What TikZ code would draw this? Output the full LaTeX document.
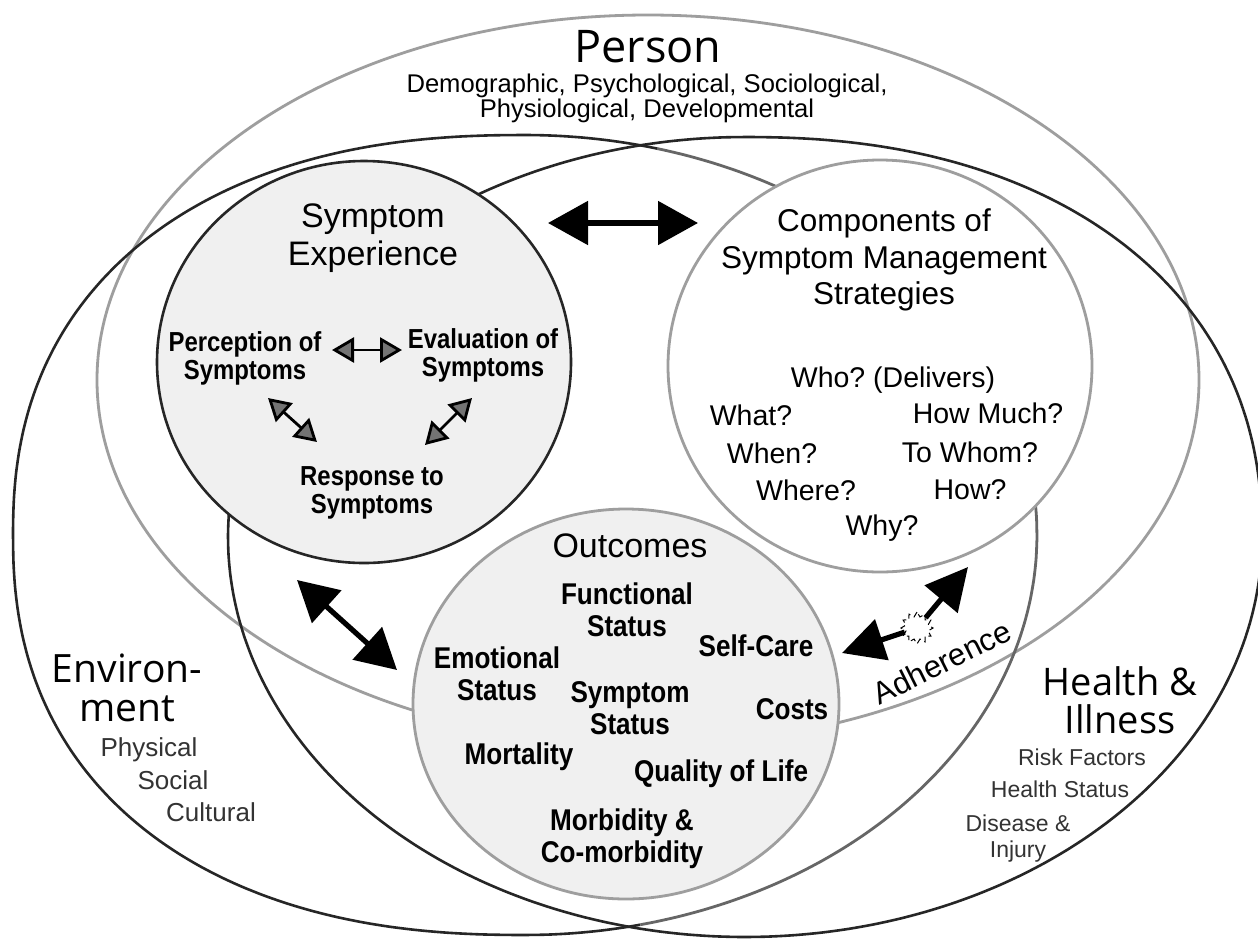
\documentclass[tikz,border=0pt]{standalone}
\usepackage{fontspec}
\setmainfont{Liberation Sans}
\newfontfamily\titlefont{Open Sans}
\newfontfamily\narrowfont[FakeStretch=0.87]{Liberation Sans}
\usepackage{tikz}
\usetikzlibrary{positioning, arrows.meta, shapes.geometric}
% fuller on the left half, plain ellipse on the right half
\newcommand{\environmentpath}{plot[domain=0.5:360.5, samples=121, smooth, variable=\t] ({525 + 512*cos(\t)*pow(abs(cos(\t)), (cos(\t)<0) ? -0.13 : 0)}, {535 + 400*sin(\t)*pow(abs(sin(\t)), (cos(\t)<0) ? -0.13 : 0)}) -- cycle}
% plain ellipse, a little fuller at the top right
\newcommand{\healthpath}{plot[domain=0.5:360.5, samples=121, smooth, variable=\t] ({745 + 517*cos(\t)*pow(abs(cos(\t)), (cos(\t)>0 && sin(\t)<0) ? -0.1 : 0)}, {537 + 400*sin(\t)*pow(abs(sin(\t)), (cos(\t)>0 && sin(\t)<0) ? -0.1 : 0)}) -- cycle}

\begin{document}
\begin{tikzpicture}[x=0.5pt, y=-0.5pt,
	dark line/.style={line width=1.3pt, black!85},
	pale line/.style={line width=1.4pt, black!38},
	big arrow/.style={line width=2.6pt, {Triangle[length=20pt, width=21.5pt]}-{Triangle[length=20pt, width=21.5pt]}},
	half arrow/.style={line width=2.6pt, -{Triangle[length=21pt, width=21pt]}},
	small arrow/.style={line width=1.4pt, {Triangle[length=11pt, width=12.5pt, fill=black!55]}-{Triangle[length=11pt, width=12.5pt, fill=black!55]}},
	domain name/.style={align=center, font=\titlefont\fontsize{19.5pt}{19.5pt}\selectfont},
	circle name/.style={align=center, font=\fontsize{17pt}{19pt}\selectfont},
	inner item/.style={align=center, font=\narrowfont\bfseries\fontsize{13.75pt}{14pt}\selectfont},
	outcome item/.style={align=center, font=\narrowfont\bfseries\fontsize{15pt}{16pt}\selectfont},
	strategy item/.style={font=\fontsize{14.25pt}{14.25pt}\selectfont},
	factor item/.style={align=center, text=black!80, font=\fontsize{11.5pt}{13pt}\selectfont},
	burst/.style={star, star points=12, star point ratio=1.4, minimum size=16pt, inner sep=0pt, draw, densely dashed, line width=0.5pt, fill=white}]
	% Page
	\useasboundingbox (0,0) rectangle (1258,938);
	\fill[white] (0,0) rectangle (1258,938);
	\clip (0,0) rectangle (1258,938);

	% Person domain
	\draw[pale line] (648,380) ellipse [x radius=551, y radius=365];

	% Environment domain, dark on the left, pale on the right
	\begin{scope}
		\clip (0,0) -- (657,0) -- (657,470) -- (640,938) -- (0,938) -- cycle;
		\draw[dark line] \environmentpath;
	\end{scope}
	\begin{scope}
		\clip (657,0) -- (1258,0) -- (1258,938) -- (640,938) -- (657,470) -- cycle;
		\draw[pale line, black!60] \environmentpath;
	\end{scope}

	% Health and illness domain
	\draw[dark line] \healthpath;

	% Inner circles
	\draw[dark line, fill=black!6] (364,362) ellipse [x radius=207, y radius=201];
	\draw[pale line, fill=white] (880,366) ellipse [x radius=212, y radius=206];
	\draw[pale line, fill=black!6] (626,704) ellipse [x radius=213, y radius=195];

	% Domain names
	\node[font=\titlefont\fontsize{22.5pt}{22.5pt}\selectfont] (person) at (648,47) {Person};
	\node[align=center, font=\fontsize{12.8pt}{12.5pt}\selectfont] (persontraits) at (647,98) {Demographic, Psychological, Sociological,\\Physiological, Developmental};
	\node[domain name] (environment) at (127,688) {Environ-\\ment};
	\node[factor item, font=\fontsize{13pt}{13pt}\selectfont] (physical) at (149,750) {Physical};
	\node[factor item, font=\fontsize{13pt}{13pt}\selectfont] (social) at (173,780) {Social};
	\node[factor item, font=\fontsize{13pt}{13pt}\selectfont] (cultural) at (211,812) {Cultural};
	\node[domain name, font=\titlefont\fontsize{19pt}{19pt}\selectfont] (health) at (1120,700) {Health \&\\Illness};
	\node[factor item] (risk) at (1082,757) {Risk Factors};
	\node[factor item] (status) at (1060,789) {Health Status};
	\node[factor item] (disease) at (1018,839) {Disease \&\\Injury};

	% Symptom experience
	\node[circle name] (experience) at (373,238) {Symptom\\Experience};
	\node[inner item] (perception) at (245,358) {Perception of\\Symptoms};
	\node[inner item] (evaluation) at (483,355) {Evaluation of\\Symptoms};
	\node[inner item] (response) at (372,493) {Response to\\Symptoms};
	\coordinate (perceptionend) at (332,350);
	\coordinate (evaluationend) at (402,350);
	\draw[small arrow] (perceptionend) -- (evaluationend);
	\coordinate (perceptionlow) at (268,398);
	\coordinate (responseleft) at (317,442);
	\draw[small arrow] (perceptionlow) -- (responseleft);
	\coordinate (evaluationlow) at (472,398);
	\coordinate (responseright) at (425,445);
	\draw[small arrow] (evaluationlow) -- (responseright);

	% Symptom management strategies
	\node[circle name, font=\fontsize{15.75pt}{18.25pt}\selectfont] (strategies) at (884,260) {Components of\\Symptom Management\\Strategies};
	\node[strategy item] (who) at (893,380) {Who?\ (Delivers)};
	\node[strategy item] (what) at (751,415) {What?};
	\node[strategy item] (howmuch) at (988,413) {How Much?};
	\node[strategy item] (when) at (772,453) {When?};
	\node[strategy item] (towhom) at (970,452) {To Whom?};
	\node[strategy item] (where) at (806,490) {Where?};
	\node[strategy item] (how) at (970,490) {How?};
	\node[strategy item] (why) at (882,528) {Why?};

	% Outcomes
	\node[circle name] (outcomes) at (630,546) {Outcomes};
	\node[outcome item] (functional) at (627,610) {Functional\\Status};
	\node[outcome item] (selfcare) at (756,646) {Self-Care};
	\node[outcome item] (emotional) at (497,674) {Emotional\\Status};
	\node[outcome item] (symptomstatus) at (630,708) {Symptom\\Status};
	\node[outcome item] (costs) at (792,709) {Costs};
	\node[outcome item] (mortality) at (519,757) {Mortality};
	\node[outcome item] (quality) at (721,774) {Quality of Life};
	\node[outcome item] (morbidity) at (622,839) {Morbidity \&\\Co-morbidity};

	% Arrows between the circles
	\coordinate (experiencetip) at (548,223);
	\coordinate (strategytip) at (698,223);
	\draw[big arrow] (experiencetip) -- (strategytip);
	\coordinate (responsetip) at (297,580);
	\coordinate (outcometip) at (397,670);
	\draw[big arrow] (responsetip) -- (outcometip);

	% Adherence
	\node[burst] (spark) at (917,628) {};
	\coordinate (selfcaretip) at (842,653);
	\coordinate (strategyedge) at (968,567);
	\draw[half arrow] (spark) -- (selfcaretip);
	\draw[half arrow] (spark) -- (strategyedge);
	\node[rotate=26.5, font=\fontsize{15.5pt}{15.5pt}\selectfont] (adherence) at (942,662) {Adherence};
\end{tikzpicture}
\end{document}
